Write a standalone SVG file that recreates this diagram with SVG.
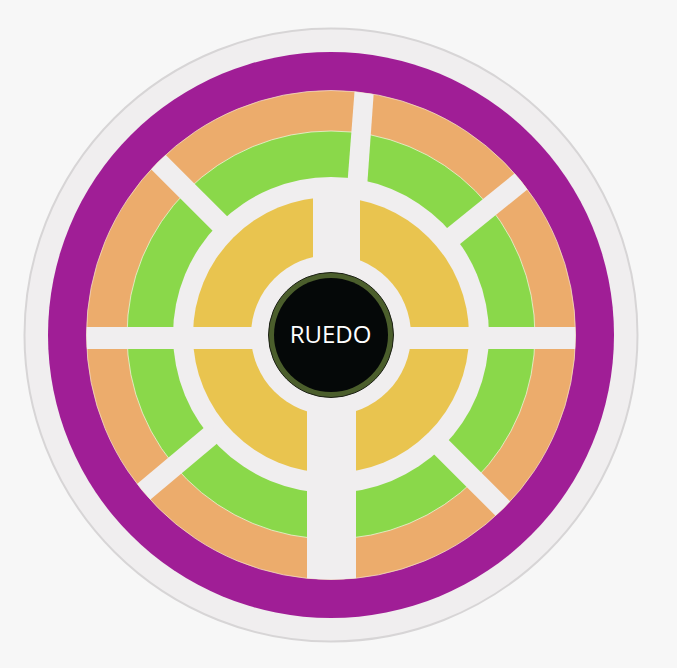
<svg xmlns="http://www.w3.org/2000/svg" width="677" height="668" viewBox="0 0 677 668">
  <defs>
    <style>
      .gap { fill: #f0eeef; }
      .lbl { font-family: "Open Sans", "Liberation Sans", sans-serif; font-size: 24px; fill: #ffffff; text-anchor: middle; }
    </style>
    <clipPath id="inner">
      <circle cx="331" cy="335" r="244.5"/>
    </clipPath>
  </defs>
  <rect width="677" height="668" fill="#f7f7f7"/>
  <g id="plaza">
    <circle cx="331" cy="335" r="306.5" fill="#f0eeef" stroke="#d7d5d6" stroke-width="2"/>
    <circle id="ring-purple" cx="331" cy="335" r="283" fill="#a01e96"/>
    <circle id="ring-orange" cx="331" cy="335" r="244.5" fill="#ecac6c" stroke="#f2dcc4" stroke-width="0.8"/>
    <circle id="ring-green" cx="331" cy="335" r="204" fill="#8ad84a" stroke="#eef2d8" stroke-width="0.8"/>
    <circle cx="331" cy="335" r="158" class="gap"/>
    <circle id="ring-yellow" cx="331" cy="335" r="138" fill="#e9c44f"/>
    <circle cx="331" cy="335" r="80" class="gap"/>
  </g>
  <g id="connectors" clip-path="url(#inner)">
    <rect class="gap" x="80" y="327" width="505" height="22"/>
    <rect class="gap" x="307" y="335" width="49" height="270"/>
    <rect class="gap" x="313" y="190" width="47" height="150"/>
    <polygon class="gap" points="355.8,75 375,75 366.5,195 346.5,195"/>
    <rect class="gap" x="481" y="325" width="110" height="20.5" transform="rotate(-39 331 335)"/>
    <rect class="gap" x="481" y="325" width="110" height="20.5" transform="rotate(-135 331 335)"/>
    <rect class="gap" x="481" y="325" width="110" height="20.5" transform="rotate(140 331 335)"/>
    <rect class="gap" x="481" y="326" width="110" height="20.5" transform="rotate(45 331 335)"/>
  </g>
  <g id="ruedo">
    <circle cx="331" cy="335" r="62.5" fill="#4b5e2c" stroke="#1b1f14" stroke-width="1"/>
    <circle cx="331" cy="335" r="57" fill="#050808"/>
    <text class="lbl" x="330.5" y="343">RUEDO</text>
  </g>
</svg>
